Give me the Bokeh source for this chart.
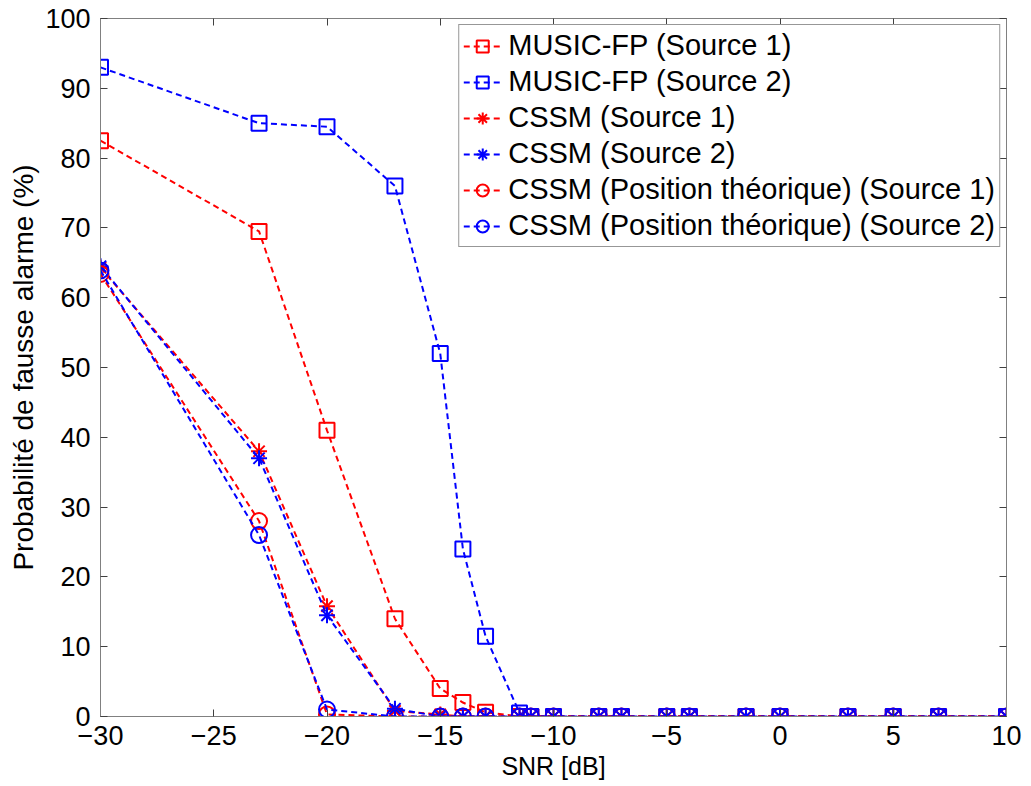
from bokeh.plotting import figure
from bokeh.models import LinearAxis, Range1d, FixedTicker, CustomJSTickFormatter
from bokeh.embed import file_html
from bokeh.resources import INLINE

# ---- data ----
snr = [-30, -23, -20, -17, -15, -14, -13, -11.5, -11, -10, -8, -7, -5, -4, -1.5, 0, 3, 5, 7, 10]
music_fp_s1 = [82.5, 69.5, 41.0, 14.0, 4.0, 2.0, 0.6, 0, 0, 0, 0, 0, 0, 0, 0, 0, 0, 0, 0, 0]
music_fp_s2 = [93.0, 85.0, 84.5, 76.0, 52.0, 24.0, 11.5, 0.5, 0, 0, 0, 0, 0, 0, 0, 0, 0, 0, 0, 0]
cssm_s1 = [64.3, 38.0, 15.8, 0.8, 0.3, 0, 0, 0, 0, 0, 0, 0, 0, 0, 0, 0, 0, 0, 0, 0]
cssm_s2 = [64.5, 37.0, 14.5, 1.1, 0, 0, 0, 0, 0, 0, 0, 0, 0, 0, 0, 0, 0, 0, 0, 0]
cssm_th_s1 = [63.4, 28.0, 0.3, 0, 0, 0, 0, 0, 0, 0, 0, 0, 0, 0, 0, 0, 0, 0, 0, 0]
cssm_th_s2 = [63.9, 26.0, 1.0, 0, 0, 0, 0, 0, 0, 0, 0, 0, 0, 0, 0, 0, 0, 0, 0, 0]

x_ticks = [-30, -25, -20, -15, -10, -5, 0, 5, 10]
y_ticks = [0, 10, 20, 30, 40, 50, 60, 70, 80, 90, 100]

labels = [
    "MUSIC-FP (Source 1)",
    "MUSIC-FP (Source 2)",
    "CSSM (Source 1)",
    "CSSM (Source 2)",
    "CSSM (Position théorique) (Source 1)",
    "CSSM (Position théorique) (Source 2)",
]

FONT = "Liberation Sans"
RED = "#ff0000"
BLUE = "#0000ff"
AXC = "#808080"

p = figure(width=1031, height=786, x_range=Range1d(-30, 10), y_range=Range1d(0, 100),
           output_backend="svg", toolbar_location=None,
           min_border_left=100, min_border_right=25, min_border_top=18, min_border_bottom=70)
p.xgrid.visible = False
p.ygrid.visible = False
p.outline_line_color = AXC
p.background_fill_color = "white"
p.border_fill_color = "white"

def style_axis(ax, ticks, show_labels=True):
    ax.ticker = FixedTicker(ticks=ticks)
    ax.axis_line_color = AXC
    ax.major_tick_line_color = "#404040"
    ax.major_tick_in = 7
    ax.major_tick_out = 0
    ax.minor_tick_line_color = None
    ax.major_label_text_font = FONT
    ax.major_label_text_color = "black"
    ax.major_label_text_font_size = "27px"
    if not show_labels:
        ax.formatter = CustomJSTickFormatter(code="return '';")
        ax.major_label_standoff = 0

style_axis(p.xaxis[0], x_ticks)
style_axis(p.yaxis[0], y_ticks)
p.xaxis.major_label_standoff = 9
p.yaxis.major_label_standoff = 10
p.xaxis.axis_label = "SNR [dB]"
p.yaxis.axis_label = "Probabilité de fausse alarme (%)"
for ax in (p.xaxis[0], p.yaxis[0]):
    ax.axis_label_text_font = FONT
    ax.axis_label_text_font_style = "normal"
    ax.axis_label_text_color = "black"
p.xaxis.axis_label_text_font_size = "25px"
p.yaxis.axis_label_text_font_size = "28px"
p.xaxis.axis_label_standoff = 4
p.yaxis.axis_label_standoff = 3

top = LinearAxis()
style_axis(top, x_ticks, show_labels=False)
p.add_layout(top, "above")
right = LinearAxis()
style_axis(right, y_ticks, show_labels=False)
p.add_layout(right, "right")

series = [
    (music_fp_s1, RED, "square", 15),
    (music_fp_s2, BLUE, "square", 15),
    (cssm_s1, RED, "asterisk", 16),
    (cssm_s2, BLUE, "asterisk", 16),
    (cssm_th_s1, RED, "circle", 16),
    (cssm_th_s2, BLUE, "circle", 16),
]

for (vals, col, mk, sz), lab in zip(series, labels):
    p.line(snr, vals, line_color=col, line_width=2, line_dash="6 4", legend_label=lab)
    p.scatter(snr, vals, marker=mk, size=sz, line_color=col, line_width=2,
              fill_color=None, legend_label=lab)

lg = p.legend[0]
lg.location = "top_right"
lg.margin = 6
lg.padding = 4
lg.spacing = 3
lg.glyph_width = 38
lg.glyph_height = 30
lg.label_height = 30
lg.label_standoff = 7
lg.label_text_font = FONT
lg.label_text_font_size = "29px"
lg.label_text_color = "black"
lg.border_line_color = "#303030"
lg.border_line_width = 1
lg.background_fill_color = "white"
lg.background_fill_alpha = 1.0

open("out.html", "w").write(file_html(p, INLINE))
